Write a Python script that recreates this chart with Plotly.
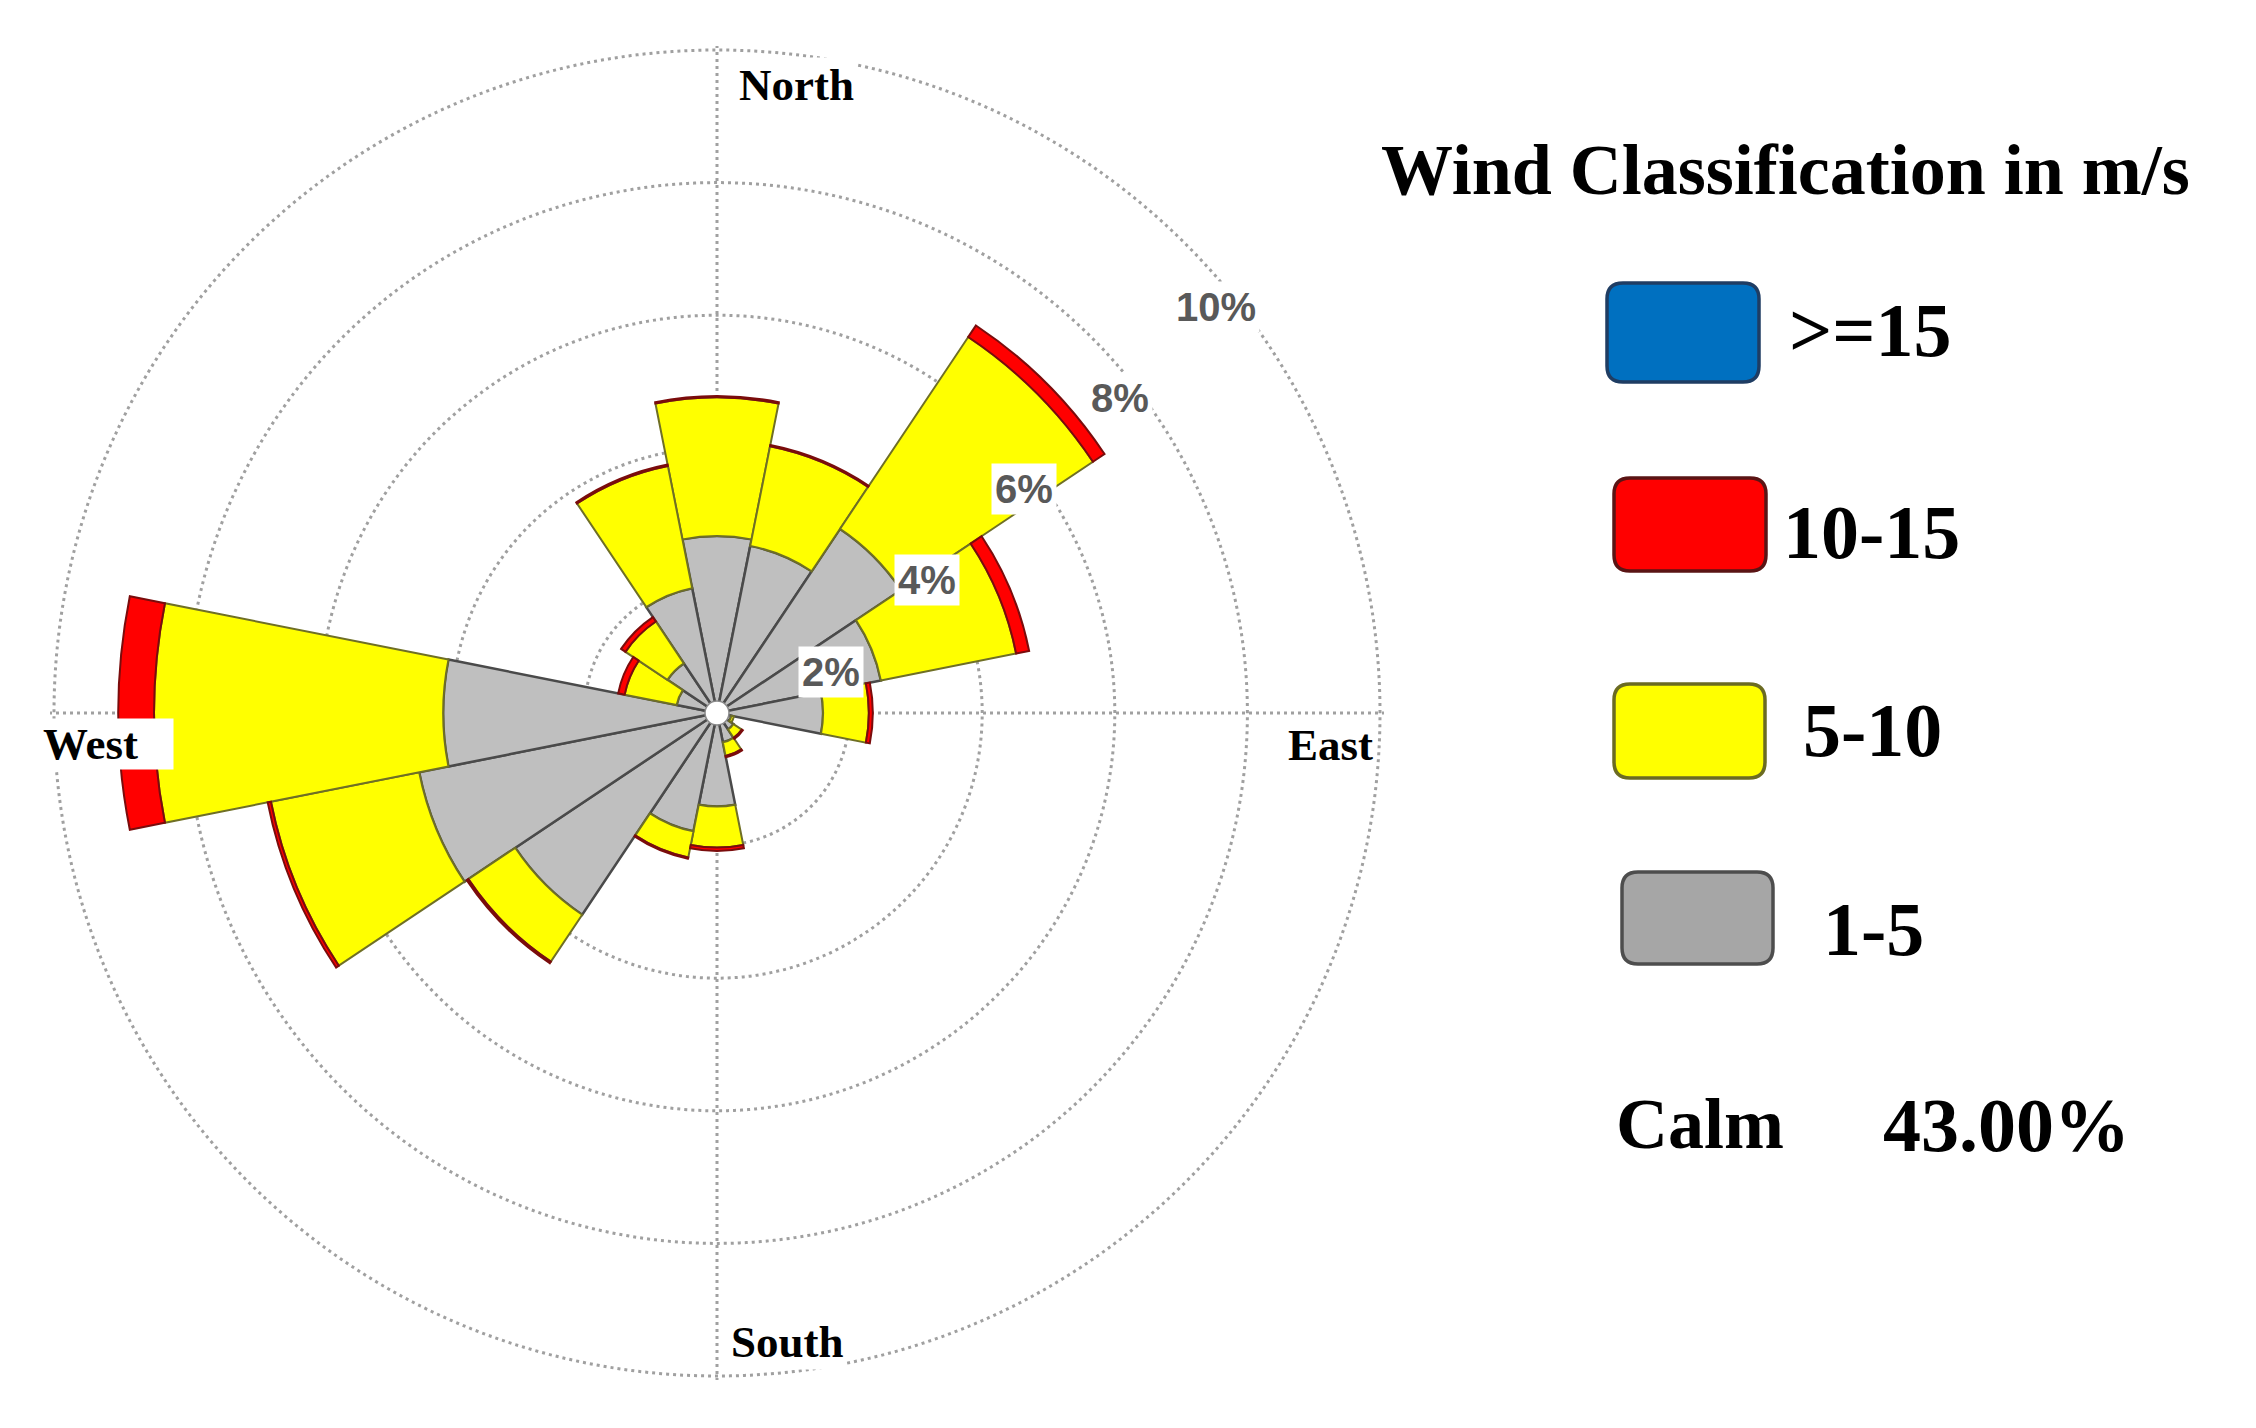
import math
import plotly.graph_objects as go

# ---------------- data ----------------
directions = ["N", "NNE", "NE", "ENE", "E", "ESE", "SE", "SSE",
              "S", "SSW", "SW", "WSW", "W", "WNW", "NW", "NNW"]
direction_deg = [0, 22.5, 45, 67.5, 90, 112.5, 135, 157.5,
                 180, 202.5, 225, 247.5, 270, 292.5, 315, 337.5]

# frequency (%) of each speed class per direction (stacked outward)
freq_1_5 = [2.67, 2.57, 3.34, 2.52, 1.60, 0.22, 0.30, 0.45,
            1.41, 1.82, 3.66, 4.58, 4.13, 0.62, 0.90, 1.92]
freq_5_10 = [2.09, 1.53, 3.48, 2.08, 0.69, 0.04, 0.15, 0.21,
             0.62, 0.40, 0.85, 2.28, 4.36, 0.80, 0.76, 1.88]
freq_10_15 = [0.02, 0.02, 0.21, 0.20, 0.06, 0.00, 0.02, 0.02,
              0.05, 0.02, 0.03, 0.05, 0.54, 0.10, 0.08, 0.02]
freq_15_up = [0.0] * 16

speed_classes = [">=15", "10-15", "5-10", "1-5"]
radial_ticks = [2, 4, 6, 8, 10]
radial_ticktext = ["2%", "4%", "6%", "8%", "10%"]
compass_deg = [0, 90, 180, 270]
compass_text = ["North", "East", "South", "West"]
legend_title = "Wind Classification in m/s"
calm_label = "Calm"
calm_value = "43.00%"

# ---------------- styles / geometry ----------------
W, H = 2256, 1428            # page size
OFF = 8                      # default body margin of the html page
FW, FH = W - 2 * OFF, H - 2 * OFF
CX, CY = 717, 713            # polar centre (page px)
R10 = 663                    # radius of the 10 % ring (px)
RMAX = 10.06                 # radial range max (so the 10 % ring is drawn)
R = R10 * RMAX / 10.0

fill = {">=15": "#0070C0", "10-15": "#FF0000", "5-10": "#FFFF00", "1-5": "#BFBFBF"}
edge = {">=15": "#1c4470", "10-15": "#7a0c0c", "5-10": "#6f6f25", "1-5": "#4a4a4a"}
edge_w = {">=15": 2, "10-15": 2, "5-10": 2, "1-5": 2.5}
legend_fill = {">=15": "#0070C0", "10-15": "#FF0000", "5-10": "#FFFF00", "1-5": "#A6A6A6"}
legend_edge = {">=15": "#1f3d63", "10-15": "#5a1414", "5-10": "#6b6b22", "1-5": "#4d4d4d"}


def px(x):
    return (x - OFF) / FW


def py(y):
    return 1 - (y - OFF) / FH


def polar_px(r, deg):
    a = math.radians(deg)
    return CX + r * R10 / 10.0 * math.sin(a), CY - r * R10 / 10.0 * math.cos(a)


series = {"1-5": freq_1_5, "5-10": freq_5_10, "10-15": freq_10_15, ">=15": freq_15_up}

fig = go.Figure()
for cls in ["1-5", "5-10", "10-15", ">=15"]:
    fig.add_trace(go.Barpolar(
        r=series[cls], theta=direction_deg, width=22.5, name=cls,
        marker=dict(color=fill[cls], line=dict(color=edge[cls], width=edge_w[cls])),
        showlegend=False, hoverinfo="skip"))

# white calm hole in the centre
fig.add_trace(go.Scatterpolar(
    r=[0], theta=[0], mode="markers", showlegend=False, hoverinfo="skip",
    marker=dict(size=24, color="white", line=dict(color="#888888", width=1.5))))

grid = dict(gridcolor="#a0a0a0", gridwidth=3, griddash="3px,4px")

fig.update_layout(
    width=FW, height=FH,
    margin=dict(l=0, r=0, t=0, b=0),
    paper_bgcolor="white", plot_bgcolor="white",
    showlegend=False,
    polar=dict(
        domain=dict(x=[px(CX - R), px(CX + R)], y=[py(CY + R), py(CY - R)]),
        bgcolor="white",
        barmode="stack",
        radialaxis=dict(range=[0, RMAX], tickvals=radial_ticks, showticklabels=False,
                        ticks="", showline=False, **grid),
        angularaxis=dict(rotation=90, direction="clockwise", tickvals=compass_deg,
                         showticklabels=False, ticks="", showline=False, **grid),
    ),
)

ann = []
# radial tick labels (placed along the 46.5 deg ray, offset to the side)
for v, t in zip(radial_ticks, radial_ticktext):
    x, y = polar_px(v, 46.5)
    ann.append(dict(x=px(x + 18), y=py(y + 50), xref="paper", yref="paper",
                    text=t, showarrow=False, xanchor="center", yanchor="middle",
                    bgcolor="white", borderpad=3,
                    font=dict(family="Liberation Sans", size=40, color="#595959",
                              weight="bold")))

# compass labels (inside the outer ring)
compass_offset = {"North": (79, 35), "East": (-50, 32), "South": (70, -34), "West": (46, 31)}
for d, t in zip(compass_deg, compass_text):
    x, y = polar_px(10, d)
    ox, oy = compass_offset[t]
    a = dict(x=px(x + ox), y=py(y + oy), xref="paper", yref="paper", text=t,
             showarrow=False, xanchor="center", yanchor="middle",
             bgcolor="white", borderpad=2,
             font=dict(family="Liberation Serif", size=45, color="black", weight="bold"))
    if t == "West":
        a.update(width=130, height=50, align="left", xanchor="left",
                 x=px(x + ox - 58), borderpad=0)
    ann.append(a)

# legend
serif = dict(family="Liberation Serif", color="black", weight="bold")
ann.append(dict(x=px(1785), y=py(170), xref="paper", yref="paper", text=legend_title,
                showarrow=False, xanchor="center", yanchor="middle",
                font=dict(size=72, **serif)))

box_px = [(1607, 283, 1759, 382), (1614, 478, 1766, 571),
          (1614, 684, 1765, 778), (1622, 872, 1773, 964)]
label_px = [(1870, 330), (1871, 532), (1872, 730), (1873, 929)]
shapes = []


def rrect(x0, y0, x1, y1, rad):
    pts = [f"M {px(x0 + rad)},{py(y0)}", f"L {px(x1 - rad)},{py(y0)}",
           f"Q {px(x1)},{py(y0)} {px(x1)},{py(y0 + rad)}",
           f"L {px(x1)},{py(y1 - rad)}",
           f"Q {px(x1)},{py(y1)} {px(x1 - rad)},{py(y1)}",
           f"L {px(x0 + rad)},{py(y1)}",
           f"Q {px(x0)},{py(y1)} {px(x0)},{py(y1 - rad)}",
           f"L {px(x0)},{py(y0 + rad)}",
           f"Q {px(x0)},{py(y0)} {px(x0 + rad)},{py(y0)} Z"]
    return " ".join(pts)


for cls, (x0, y0, x1, y1), (lx, ly) in zip(speed_classes, box_px, label_px):
    shapes.append(dict(type="path", xref="paper", yref="paper",
                       path=rrect(x0, y0, x1, y1, 16),
                       fillcolor=legend_fill[cls],
                       line=dict(color=legend_edge[cls], width=3.5)))
    ann.append(dict(x=px(lx), y=py(ly), xref="paper", yref="paper", text=cls,
                    showarrow=False, xanchor="center", yanchor="middle",
                    font=dict(size=76, **serif)))

ann.append(dict(x=px(1700), y=py(1124), xref="paper", yref="paper", text=calm_label,
                showarrow=False, xanchor="center", yanchor="middle",
                font=dict(size=72, **serif)))
ann.append(dict(x=px(2006), y=py(1125), xref="paper", yref="paper", text=calm_value,
                showarrow=False, xanchor="center", yanchor="middle",
                font=dict(size=76, **serif)))

fig.update_layout(annotations=ann, shapes=shapes)
fig.write_html("out.html")
